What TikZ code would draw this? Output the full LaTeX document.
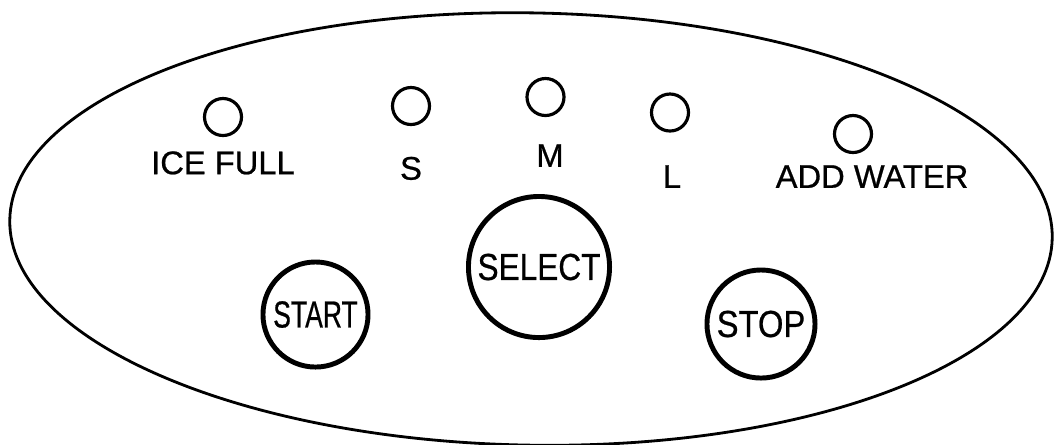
\documentclass[tikz,border=0pt]{standalone}
\usepackage{fontspec}
\setmainfont{Liberation Sans}
\newfontfamily\panelfont{Liberation Sans}[FakeBold=0.7]
\usepackage{graphicx}
\usepackage{tikz}
\usetikzlibrary{shapes.geometric, positioning}
\newcommand{\btnlabel}[2]{\scalebox{#1}[1]{#2}} % squeezes the text of a button
\tikzset{
panel/.style={draw, ellipse, inner sep=0, line width=0.8pt, minimum width=10.42cm, minimum height=4.32cm, rotate=-1}, % the outline of the panel
led/.style={draw, circle, inner sep=0, line width=0.9pt, minimum size=0.37cm}, % the small lamps
lbl/.style={inner sep=0, font=\panelfont\fontsize{9.3}{11}\selectfont}, % the text under a lamp
btn/.style={draw, circle, inner sep=0, line width=1.4pt, font=\panelfont\fontsize{10.7}{12}\selectfont}, % the push buttons
}

\begin{document}
\begin{tikzpicture}[x=0.01cm, y=-0.01cm]
            \useasboundingbox (0,0) rectangle (1060,444);
            \node[panel] (panel) at (531,229) {};
            % lamps
            \node[led] (ledice) at (223,117) {};
            \node[led] (leds) at (411,106) {};
            \node[led] (ledm) at (545.5,97) {};
            \node[led] (ledl) at (670,112.5) {};
            \node[led] (ledadd) at (853,134) {};
            \node[lbl, below=0.135cm of ledice] (lblice) {ICE FULL};
            \node[lbl, below=0.30cm of leds] (lbls) {S};
            \node[lbl, below=0.265cm of ledm, xshift=0.045cm] (lblm) {M};
            \node[lbl, below=0.32cm of ledl, xshift=0.02cm] (lbll) {L};
            \node[lbl, below=0.105cm of ledadd, xshift=0.19cm] (lbladd) {ADD WATER};
            % buttons
            \node[btn, minimum size=1.05cm] (start) at (315.5,314.5) {\btnlabel{0.705}{START}};
            \node[btn, minimum size=1.41cm] (select) at (539,267) {\btnlabel{0.84}{SELECT}};
            \node[btn, minimum size=1.08cm] (stop) at (761,324) {\btnlabel{0.87}{STOP}};
        \end{tikzpicture}
\end{document}
